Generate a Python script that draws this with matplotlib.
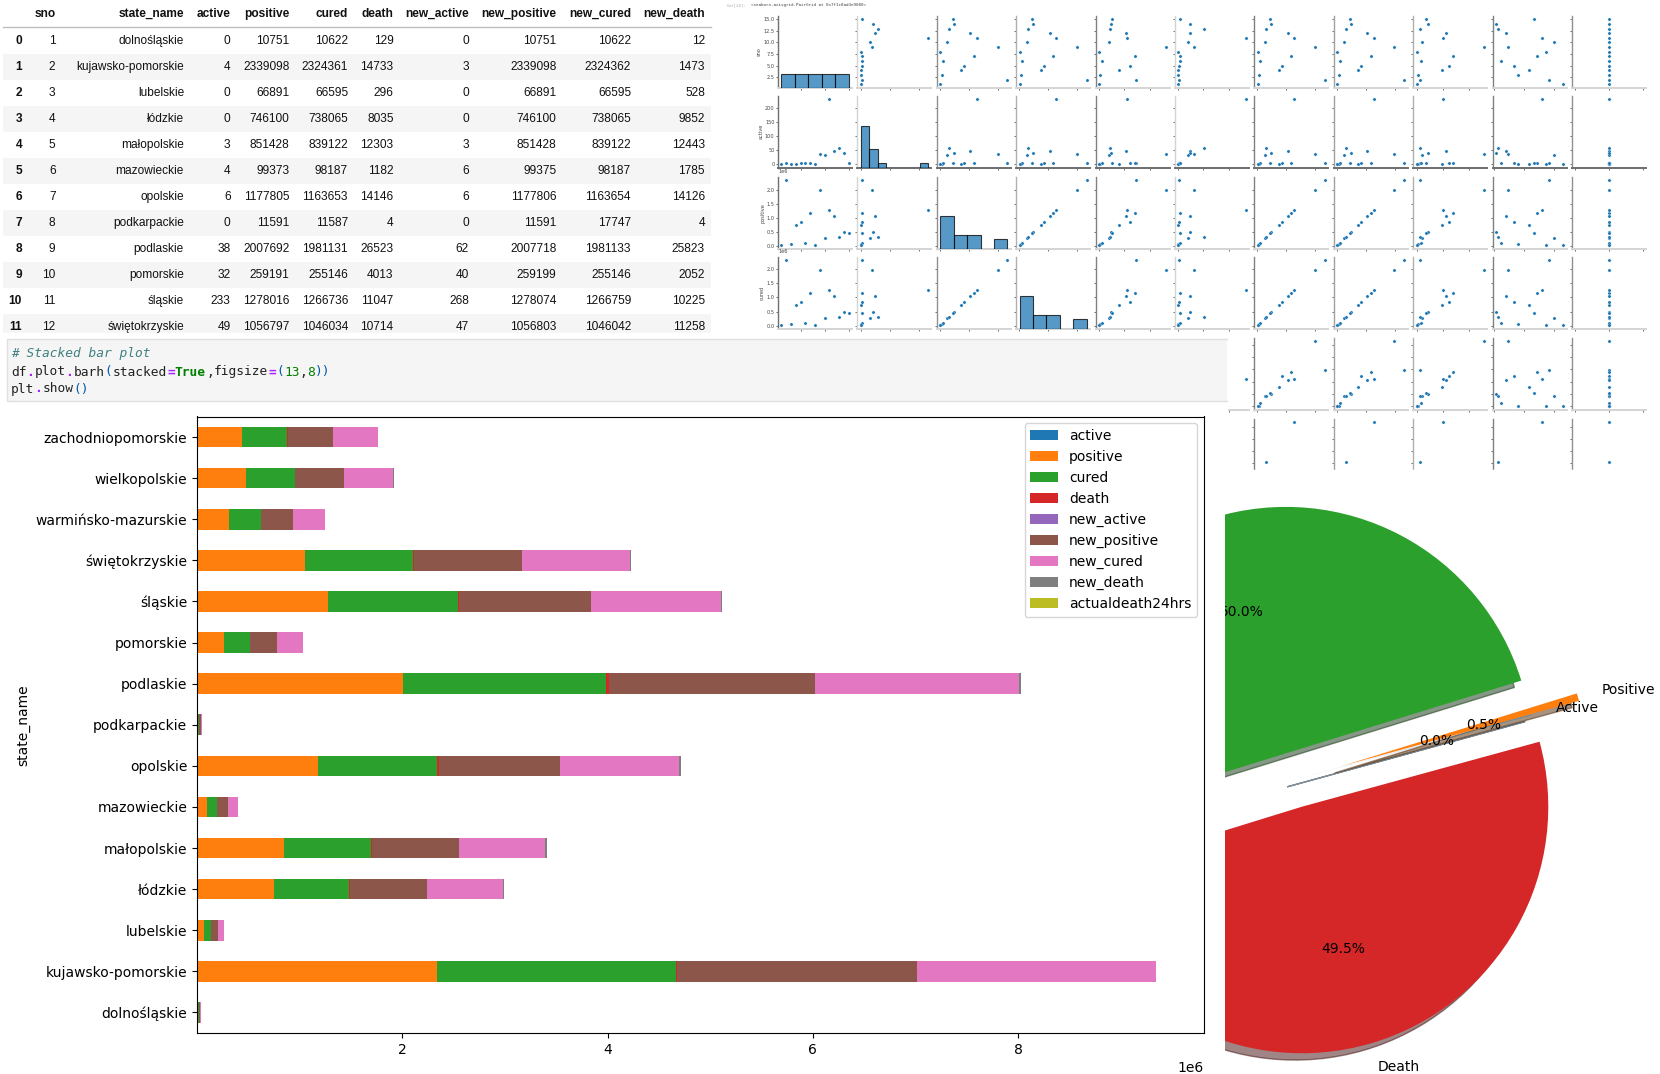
"""
Notebook screenshot collage: table, pair plot, stacked bars and exploded pie
"""

import matplotlib
matplotlib.use("Agg")
import matplotlib.pyplot as plt
import numpy as np
import pandas as pd
from matplotlib.patches import Rectangle

state_name = ["dolnośląskie", "kujawsko-pomorskie", "lubelskie", "łódzkie", "małopolskie",
              "mazowieckie", "opolskie", "podkarpackie", "podlaskie", "pomorskie", "śląskie",
              "świętokrzyskie", "warmińsko-mazurskie", "wielkopolskie", "zachodniopomorskie"]
sno = [1, 2, 3, 4, 5, 6, 7, 8, 9, 10, 11, 12, 13, 14, 15]
active = [0, 4, 0, 0, 3, 4, 6, 0, 38, 32, 233, 49, 60, 41, 3]
positive = [10751, 2339098, 66891, 746100, 851428, 99373, 1177805, 11591, 2007692, 259191,
            1278016, 1056797, 311000, 478000, 441000]
cured = [10622, 2324361, 66595, 738065, 839122, 98187, 1163653, 11587, 1981131, 255146,
         1266736, 1046034, 308000, 475000, 436000]
death = [129, 14733, 296, 8035, 12303, 1182, 14146, 4, 26523, 4013, 11047, 10714, 4200, 4800, 5300]
new_active = [0, 3, 0, 0, 3, 6, 6, 0, 62, 40, 268, 47, 103, 45, 5]
new_positive = [10751, 2339098, 66891, 746100, 851428, 99375, 1177806, 11591, 2007718, 259199,
                1278074, 1056803, 311200, 478100, 441050]
new_cured = [10622, 2324362, 66595, 738065, 839122, 98187, 1163654, 17747, 1981133, 255146,
             1266759, 1046042, 308100, 475000, 436100]
new_death = [12, 1473, 528, 9852, 12443, 1785, 14126, 4, 25823, 2052, 10225, 11258, 1140, 4300, 3650]
state_code = [115, 92, 40, 59, 33, 13, 72, 86, 24, 99, 80, 20, 8, 4, 66]
actualdeath24hrs = [0] * 15

pie_labels = ["Active", "Positive", "Cured", "Death"]
pie_values = [0.02, 0.5, 50.0, 49.48]
pie_explode = (0.0, 0.2, 0.113, 0.113)

# table layout: column title, values, right edge in pixels
table_columns = [("sno", sno, 55.5), ("state_name", state_name, 184), ("active", active, 230.5),
                 ("positive", positive, 289.6), ("cured", cured, 348), ("death", death, 393.5),
                 ("new_active", new_active, 469), ("new_positive", new_positive, 556.5),
                 ("new_cured", new_cured, 631), ("new_death", new_death, 705)]

W, H = 1660, 1074


def px_axes(fig, left, top, right, bottom, **kw):
    """Axes placed by pixel box, y counted from the top of the picture"""
    return fig.add_axes([left / W, 1 - bottom / H, (right - left) / W, (bottom - top) / H], **kw)


fig = plt.figure(figsize=(W / 100, H / 100), dpi=100, facecolor="white")

# ---- pair plot, sits under everything else
pair_vars = [("sno", sno, 5), ("active", active, 8), ("positive", positive, 5), ("cured", cured, 5),
             ("death", death, 5), ("new_active", new_active, 5), ("new_positive", new_positive, 5),
             ("new_cured", new_cured, 5), ("new_death", new_death, 5),
             ("state_code", state_code, 5), ("actualdeath24hrs", actualdeath24hrs, 5)]
row_tops = [16, 96, 177, 257, 338, 419]
bottom_colors = ["#d4d4d4", "#6e6e6e", "#d4d4d4", "#d4d4d4", "#d4d4d4", "#d4d4d4"]
left_colors = ["#707070", "#d4d4d4", "#909090", "#b0b0b0", "#808080", "#d4d4d4",
               "#808080", "#a0a0a0", "#b0b0b0", "#808080", "#909090"]


def pad_limits(vals):
    lo, hi = min(vals), max(vals)
    pad = 0.05 * (hi - lo) if hi > lo else 0.055
    return lo - pad, hi + pad


for r, top in enumerate(row_tops):
    yname, yvals, _ = pair_vars[r]
    for c, (xname, xvals, bins) in enumerate(pair_vars):
        left = 778 + 79.4 * c
        ax = px_axes(fig, left, top, left + 74, top + 71.5, zorder=1)
        ax.set_xlim(*pad_limits(xvals))
        ax.set_ylim(*pad_limits(yvals))
        if r == c:
            hax = ax.twinx()
            hax.hist(xvals, bins=bins, color="C0", alpha=0.75, edgecolor="black", linewidth=0.8)
            hax.set_ylim(0, 15.4)
            hax.axis("off")
        else:
            ax.scatter(xvals, yvals, s=5.5, color="C0", edgecolor="white", linewidth=0.2)
        ax.spines[["top", "right"]].set_visible(False)
        ax.spines["bottom"].set_color(bottom_colors[r])
        ax.spines["bottom"].set_linewidth(1.4)
        ax.spines["left"].set_color(left_colors[c])
        ax.spines["left"].set_linewidth(1.0)
        ax.tick_params(length=1.5, width=0.4, pad=1, labelsize=3.6, labelcolor="#444444",
                       labelbottom=False, labelleft=(c == 0))
        ax.yaxis.get_offset_text().set_fontsize(3.6)
        if c == 0:
            ax.set_ylabel(yname, fontsize=3.6, labelpad=1, color="#444444")

# ---- flat layer for the notebook bits: table, code cell, white covers
canvas = fig.add_axes([0, 0, 1, 1], zorder=2)
canvas.set_xlim(0, W)
canvas.set_ylim(H, 0)
canvas.axis("off")
canvas.patch.set_alpha(0)

# covers for the parts of the pair plot hidden by later cells
canvas.add_patch(Rectangle((0, 333), 1227, H - 333, color="white", zorder=1))
canvas.add_patch(Rectangle((1225, 470), W - 1225, H - 470, color="white", zorder=1))

table_font = dict(family="Liberation Sans", fontsize=8.6, va="center", ha="right", color="#111111")
row_y = [41 + 26 * i for i in range(12)]

for i, y in enumerate(row_y):
    if i % 2 == 1:
        canvas.add_patch(Rectangle((3, y - 13), 708, 26, color="#f5f5f5", lw=0, zorder=0))
    canvas.text(22, y, str(i), fontweight="bold", **table_font)
    for title, vals, right in table_columns:
        canvas.text(right, y, str(vals[i]), clip_on=True, **table_font)
for title, vals, right in table_columns:
    canvas.text(right, 14, title, fontweight="bold", **table_font)
canvas.plot([3, 711], [27, 27], color="#bdbdbd", lw=1)
canvas.add_patch(Rectangle((0, 333), 727, 6, color="white", zorder=3))

# code cell, the right border is cut off in the screenshot
canvas.add_patch(Rectangle((6.5, 339), 1220, 62, facecolor="#f5f5f5", edgecolor="none", zorder=4))
canvas.plot([1226.5, 6.5, 6.5, 1226.5], [339, 339, 401, 401], color="#e0e0e0", lw=1, zorder=4)
CH = 7.8
code_lines = [
    (354, [("# Stacked bar plot", "#408080", "normal", "italic")]),
    (372, [("df", "#222222", "normal", "normal"), (".", "#aa22ff", "bold", "normal"),
           ("plot", "#222222", "normal", "normal"), (".", "#aa22ff", "bold", "normal"),
           ("barh", "#222222", "normal", "normal"), ("(", "#0055aa", "normal", "normal"),
           ("stacked", "#222222", "normal", "normal"), ("=", "#aa22ff", "bold", "normal"),
           ("True", "#008000", "bold", "normal"), (",", "#222222", "normal", "normal"),
           ("figsize", "#222222", "normal", "normal"), ("=", "#aa22ff", "bold", "normal"),
           ("(", "#0055aa", "normal", "normal"), ("13", "#008000", "normal", "normal"),
           (",", "#222222", "normal", "normal"), ("8", "#008000", "normal", "normal"),
           ("))", "#0055aa", "normal", "normal")]),
    (389, [("plt", "#222222", "normal", "normal"), (".", "#aa22ff", "bold", "normal"),
           ("show", "#222222", "normal", "normal"), ("()", "#0055aa", "normal", "normal")]),
]
for y, tokens in code_lines:
    x = 11
    for chunk, color, weight, style in tokens:
        canvas.text(x, y, chunk, family="DejaVu Sans Mono", fontsize=9.3, color=color,
                    fontweight=weight, fontstyle=style, va="center", ha="left", zorder=5)
        x += CH * len(chunk)

# out prompt above the pair plot
canvas.text(727, 5, "Out[28]:", family="DejaVu Sans Mono", fontsize=3.1, color="#b0b0b0", va="center")
canvas.text(751, 5, "<seaborn.axisgrid.PairGrid at 0x7f1c8ad3e9080>", family="DejaVu Sans Mono",
            fontsize=3.1, color="#444444", va="center")

# ---- stacked bars
df = pd.DataFrame({"active": active, "positive": positive, "cured": cured, "death": death,
                   "new_active": new_active, "new_positive": new_positive, "new_cured": new_cured,
                   "new_death": new_death, "actualdeath24hrs": actualdeath24hrs},
                  index=pd.Index(state_name, name="state_name"))
bar_ax = px_axes(fig, 197, 416.5, 1204, 1033, zorder=3)
df.plot.barh(stacked=True, ax=bar_ax)
bar_ax.set_xticks([2e6, 4e6, 6e6, 8e6])

# ---- exploded pie, cut off on the left like the original crop
pie_ax = px_axes(fig, 1225, 470, W, H, zorder=3)
wedges, texts, autotexts = pie_ax.pie(pie_values, labels=pie_labels, explode=pie_explode,
                                      autopct="%1.1f%%", shadow=True, startangle=15.3)
for t in texts + autotexts:
    t.set_clip_on(True)
for p in pie_ax.patches:
    p.set_clip_on(True)
    p.set_clip_path(pie_ax.patch)
cx, cy, radius = 1294, 780, 246.5
pie_ax.set_xlim((1225 - cx) / radius, (W - cx) / radius)
pie_ax.set_ylim((cy - H) / radius, (cy - 470) / radius)

fig.savefig("out.png", dpi=100)
